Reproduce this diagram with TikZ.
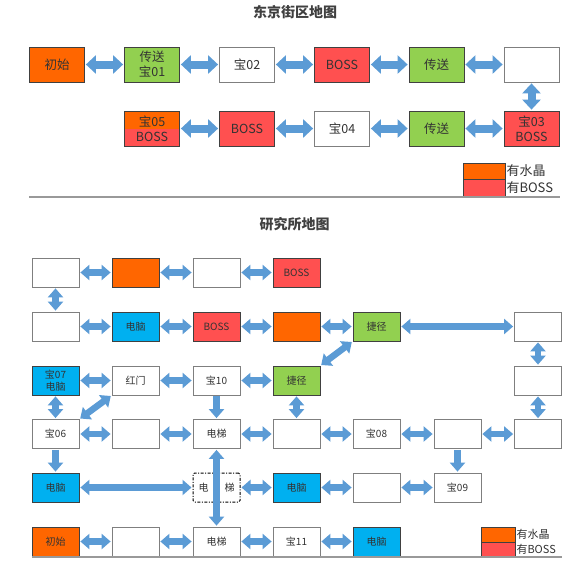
\documentclass[tikz,border=0pt]{standalone}
\usepackage{fontspec}
\setmainfont{Noto Sans CJK SC}
\usetikzlibrary{arrows.meta,calc}
\definecolor{cO}{HTML}{FF6600}
\definecolor{cG}{HTML}{92D050}
\definecolor{cR}{HTML}{FF5050}
\definecolor{cB}{HTML}{00B0F0}
\definecolor{cA}{HTML}{5B9BD5}
\definecolor{cT}{HTML}{333333}
\definecolor{cW}{HTML}{7F7F7F}
\definecolor{cK}{HTML}{404040}
\tikzset{
  tbox/.style={draw=cK, line width=0.8pt, minimum width=55pt, minimum height=35pt, inner sep=0pt, align=center, text=cT, font=\fontsize{12.5}{15}\selectfont},
  bbox/.style={draw=cK, line width=0.8pt, minimum width=47pt, minimum height=29pt, inner sep=0pt, align=center, text=cT, font=\fontsize{10}{11.5}\selectfont},
  wbox/.style={draw=cW, fill=white},
  halfbox/.style={path picture={\fill[cO] (path picture bounding box.north west) rectangle (path picture bounding box.east);}},
  tdbl/.style={draw=cA, line width=8pt, {Triangle[width=18pt,length=10pt]}-{Triangle[width=18pt,length=10pt]}, shorten <=1pt, shorten >=1pt},
  bdbl/.style={draw=cA, line width=6.5pt, {Triangle[width=15pt,length=9pt]}-{Triangle[width=15pt,length=9pt]}, shorten <=1pt, shorten >=1pt},
  bsgl/.style={draw=cA, line width=6.5pt, -{Triangle[width=15pt,length=9pt]}, shorten <=1pt, shorten >=1pt},
  legbox/.style={draw=cK, line width=0.6pt, inner sep=0pt},
  legtext/.style={anchor=west, inner sep=1pt, text=cT},
  title/.style={text=cK, font=\fontsize{14}{16}\selectfont\bfseries},
  rule/.style={draw=cW!80, line width=1.2pt}
}
\begin{document}
\begin{tikzpicture}[x=1pt,y=-1pt]
\useasboundingbox[fill=white] (0,0) rectangle (585,565);
% ---------- top map ----------
\node[title] (tt) at (295,12) {东京街区地图};
\node[tbox,fill=cO] (t1) at (57,64.5) {初始};
\node[tbox,fill=cG] (t2) at (152,64.5) {传送\\宝01};
\node[tbox,wbox] (t3) at (247,64.5) {宝02};
\node[tbox,fill=cR] (t4) at (342,64.5) {BOSS};
\node[tbox,fill=cG] (t5) at (436.5,64.5) {传送};
\node[tbox,wbox] (t6) at (531.5,64.5) {};
\node[tbox,fill=cR,halfbox] (u1) at (152,128.5) {宝05\\BOSS};
\node[tbox,fill=cR] (u2) at (247,128.5) {BOSS};
\node[tbox,wbox] (u3) at (342,128.5) {宝04};
\node[tbox,fill=cG] (u4) at (436.5,128.5) {传送};
\node[tbox,fill=cR] (u5) at (531.5,128.5) {宝03\\BOSS};
\draw[tdbl] (t1) -- (t2);
\draw[tdbl] (t2) -- (t3);
\draw[tdbl] (t3) -- (t4);
\draw[tdbl] (t4) -- (t5);
\draw[tdbl] (t5) -- (t6);
\draw[tdbl] (t6) -- (u5);
\draw[tdbl] (u5) -- (u4);
\draw[tdbl] (u4) -- (u3);
\draw[tdbl] (u3) -- (u2);
\draw[tdbl] (u2) -- (u1);
\node[legbox,fill=cO,minimum width=42pt,minimum height=16pt] (tlo) at (484,171) {};
\node[legbox,fill=cR,minimum width=42pt,minimum height=18pt] (tlr) at (484,188) {};
\node[legtext,font=\fontsize{13}{15}\selectfont] (tlot) at (tlo.east) {有水晶};
\node[legtext,font=\fontsize{13}{15}\selectfont] (tlrt) at (tlr.east) {有BOSS};
\draw[rule] (29,197) -- (560,197);
% ---------- bottom map ----------
\node[title] (bt) at (294.5,224) {研究所地图};
% row A
\node[bbox,wbox] (a1) at (55.5,272.5) {};
\node[bbox,fill=cO] (a2) at (135.5,272.5) {};
\node[bbox,wbox] (a3) at (216.5,272.5) {};
\node[bbox,fill=cR] (a4) at (296.5,272.5) {BOSS};
% row B
\node[bbox,wbox] (b1) at (55.5,326.5) {};
\node[bbox,fill=cB] (b2) at (135.5,326.5) {电脑};
\node[bbox,fill=cR] (b3) at (216.5,326.5) {BOSS};
\node[bbox,fill=cO] (b4) at (296.5,326.5) {};
\node[bbox,fill=cG] (b5) at (376.5,326.5) {捷径};
\node[bbox,wbox] (b7) at (538,326.5) {};
% row C
\node[bbox,fill=cB] (c1) at (55.5,380.5) {宝07\\电脑};
\node[bbox,wbox] (c2) at (135.5,380.5) {红门};
\node[bbox,wbox] (c3) at (216.5,380.5) {宝10};
\node[bbox,fill=cG] (c4) at (296.5,380.5) {捷径};
\node[bbox,wbox] (c7) at (538,380.5) {};
% row D
\node[bbox,wbox] (d1) at (55.5,434) {宝06};
\node[bbox,wbox] (d2) at (135.5,434) {};
\node[bbox,wbox] (d3) at (216.5,434) {电梯};
\node[bbox,wbox] (d4) at (296.5,434) {};
\node[bbox,wbox] (d5) at (376.5,434) {宝08};
\node[bbox,wbox] (d6) at (457.5,434) {};
\node[bbox,wbox] (d7) at (538,434) {};
% row E
\node[bbox,fill=cB] (e1) at (55.5,487.5) {电脑};
\node[bbox,draw=black,fill=white,line width=1pt,rounded corners=1.5pt,dash pattern=on 3pt off 1.5pt on 1pt off 1.5pt] (e3) at (216.5,487.5) {电\hspace{16pt}梯};
\node[bbox,fill=cB] (e4) at (296.5,487.5) {电脑};
\node[bbox,wbox] (e5) at (376.5,487.5) {};
\node[bbox,wbox] (e6) at (457.5,487.5) {宝09};
% row F
\node[bbox,fill=cO] (f1) at (55.5,541.5) {初始};
\node[bbox,wbox] (f2) at (135.5,541.5) {};
\node[bbox,wbox] (f3) at (216.5,541.5) {电梯};
\node[bbox,wbox] (f4) at (296.5,541.5) {宝11};
\node[bbox,fill=cB] (f5) at (376.5,541.5) {电脑};
% arrows
\draw[bdbl] (a1) -- (a2);
\draw[bdbl] (a2) -- (a3);
\draw[bdbl] (a3) -- (a4);
\draw[bdbl] (a1) -- (b1);
\draw[bdbl] (b1) -- (b2);
\draw[bdbl] (b2) -- (b3);
\draw[bdbl] (b3) -- (b4);
\draw[bdbl] (b4) -- (b5);
\draw[bdbl] (b5) -- (b7);
\draw[bdbl] (b7) -- (c7);
\draw[bdbl] (b5.south west) -- (c4.north east);
\draw[bdbl] (c1) -- (c2);
\draw[bdbl] (c2) -- (c3);
\draw[bdbl] (c3) -- (c4);
\draw[bdbl] (c1) -- (d1);
\draw[bdbl] (c2.south west) -- (d1.north east);
\draw[bsgl] (c3) -- (d3);
\draw[bdbl] (c4) -- (d4);
\draw[bdbl] (c7) -- (d7);
\draw[bdbl] (d1) -- (d2);
\draw[bdbl] (d2) -- (d3);
\draw[bdbl] (d3) -- (d4);
\draw[bdbl] (d4) -- (d5);
\draw[bdbl] (d5) -- (d6);
\draw[bdbl] (d6) -- (d7);
\draw[bsgl] (d1) -- (e1);
\draw[bsgl] (d6) -- (e6);
\draw[bdbl] (d3) -- (f3);
\draw[bdbl] (e1) -- (e3);
\draw[bdbl] (e3) -- (e4);
\draw[bdbl] (e4) -- (e5);
\draw[bdbl] (e5) -- (e6);
\draw[bdbl] (f1) -- (f2);
\draw[bdbl] (f2) -- (f3);
\draw[bdbl] (f3) -- (f4);
\draw[bdbl] (f4) -- (f5);
% legend
\node[legbox,fill=cO,minimum width=34pt,minimum height=15pt] (blo) at (498,534.5) {};
\node[legbox,fill=cR,minimum width=34pt,minimum height=14pt] (blr) at (498,549) {};
\node[legtext,font=\fontsize{11}{13}\selectfont] (blot) at (blo.east) {有水晶};
\node[legtext,font=\fontsize{11}{13}\selectfont] (blrt) at (blr.east) {有BOSS};
\draw[rule] (32,557) -- (562,557);
\end{tikzpicture}
\end{document}
